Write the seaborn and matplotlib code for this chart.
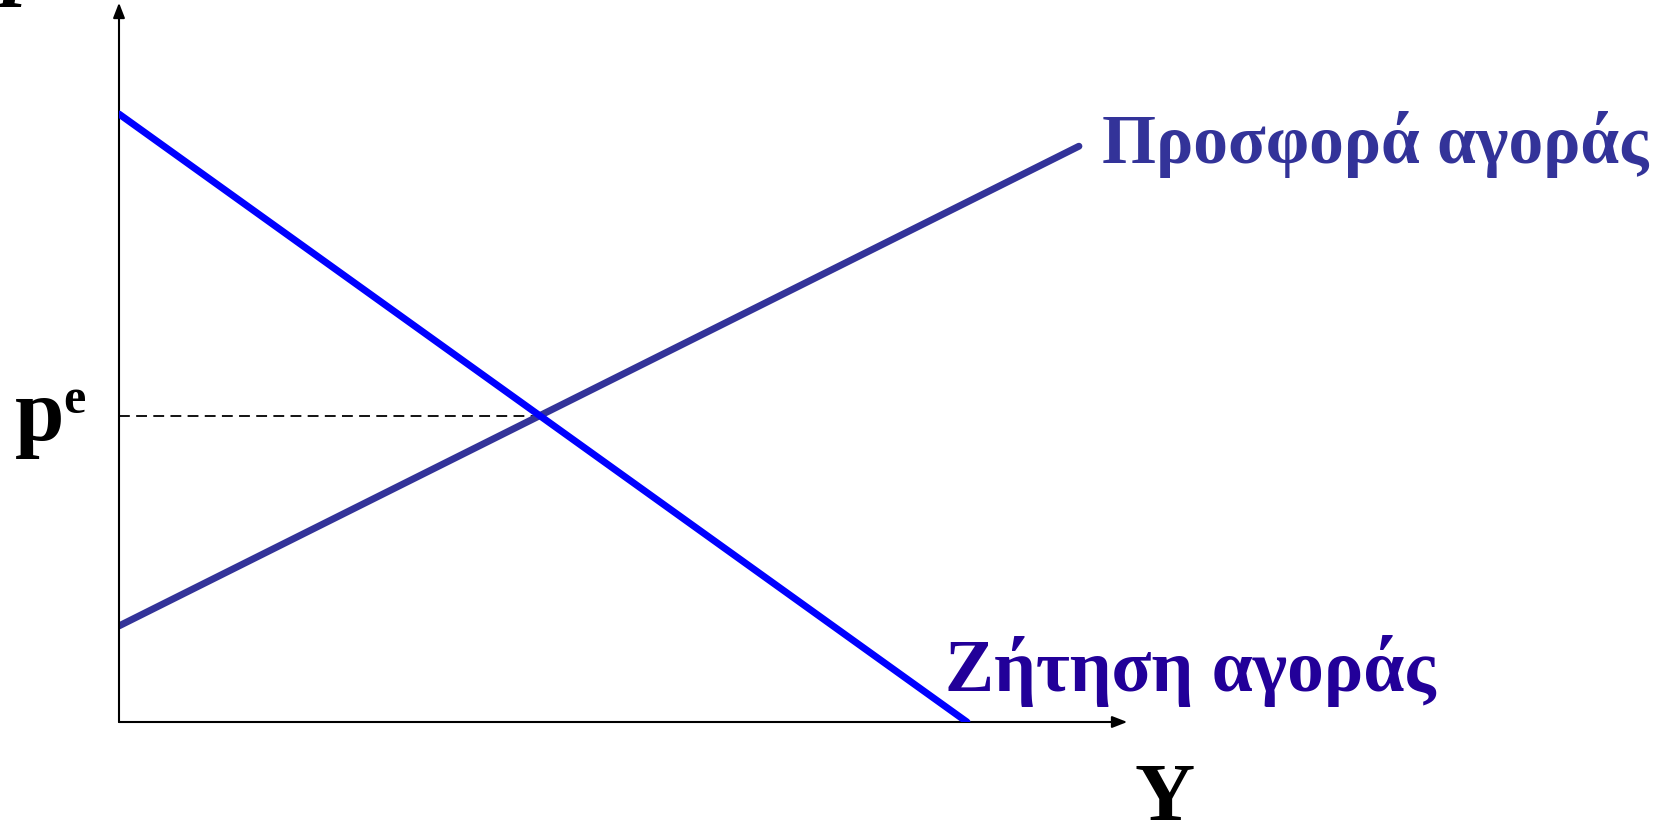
import numpy as np
import pandas as pd
import matplotlib
matplotlib.use("Agg")
import matplotlib.pyplot as plt
import seaborn as sns

# quantities (Y) and prices (p), arbitrary units
demand_Y = [0.0, 10.0]
demand_p = [10.0, 0.0]
supply_Y = [0.0, 11.32]
supply_p = [1.58, 9.47]

supply_label = "Προσφορά αγοράς"
demand_label = "Ζήτηση αγοράς"
x_label = "Y"
price_label = "p"
eq_sup = "e"

sns.set_style("white")
plt.rcParams["font.family"] = ["Liberation Serif", "DejaVu Serif"]

fig = plt.figure(figsize=(16.7, 8.26), dpi=100)
ax = fig.add_axes([119 / 1670, 104 / 826, 1017.6 / 1670, 729.6 / 826])
ax.set_xlim(0, 12)
ax.set_ylim(0, 12)
ax.axis("off")

demand = pd.DataFrame({"Y": demand_Y, "p": demand_p})
supply = pd.DataFrame({"Y": supply_Y, "p": supply_p})

# equilibrium from the two lines
sd = np.polyfit(demand_Y, demand_p, 1)
ss = np.polyfit(supply_Y, supply_p, 1)
y_eq = (ss[1] - sd[1]) / (sd[0] - ss[0])
p_eq = sd[0] * y_eq + sd[1]

ax.plot([0, y_eq], [p_eq, p_eq], color="black", lw=1.3, ls=(0, (6, 3.5)), zorder=1)

sns.lineplot(data=supply, x="Y", y="p", color="#333399", lw=5.0, ax=ax, zorder=3)
sns.lineplot(data=demand, x="Y", y="p", color="#0000FF", lw=5.0, ax=ax, zorder=4)

# axes with arrows
arrow = dict(arrowstyle="-|>,head_length=0.9,head_width=0.35", color="black", lw=1.5,
             shrinkA=0, shrinkB=0)
ax.annotate("", xy=(11.89, 0), xytext=(0, 0), arrowprops=arrow, annotation_clip=False)
ax.annotate("", xy=(0, 11.83), xytext=(0, 0), arrowprops=arrow, annotation_clip=False)

ax.text(11.59, 9.20, supply_label, color="#333399", fontsize=50, fontweight="bold",
        va="baseline", ha="left", clip_on=False)
ax.text(9.74, 0.51, demand_label, color="#220099", fontsize=53, fontweight="bold",
        va="baseline", ha="left", clip_on=False)
ax.text(12.33, -1.62, x_label, color="black", fontsize=60, fontweight="bold",
        va="baseline", ha="center", clip_on=False)
ax.text(-1.23, 4.64, price_label, color="black", fontsize=64, fontweight="bold",
        va="baseline", ha="left", clip_on=False)
ax.text(-0.66, 5.08, eq_sup, color="black", fontsize=36, fontweight="bold",
        va="baseline", ha="left", clip_on=False)
ax.text(-1.36, 12.08, price_label, color="black", fontsize=64, fontweight="bold",
        fontstyle="italic", va="baseline", ha="left", clip_on=False)

fig.savefig("out.png", dpi=100)
